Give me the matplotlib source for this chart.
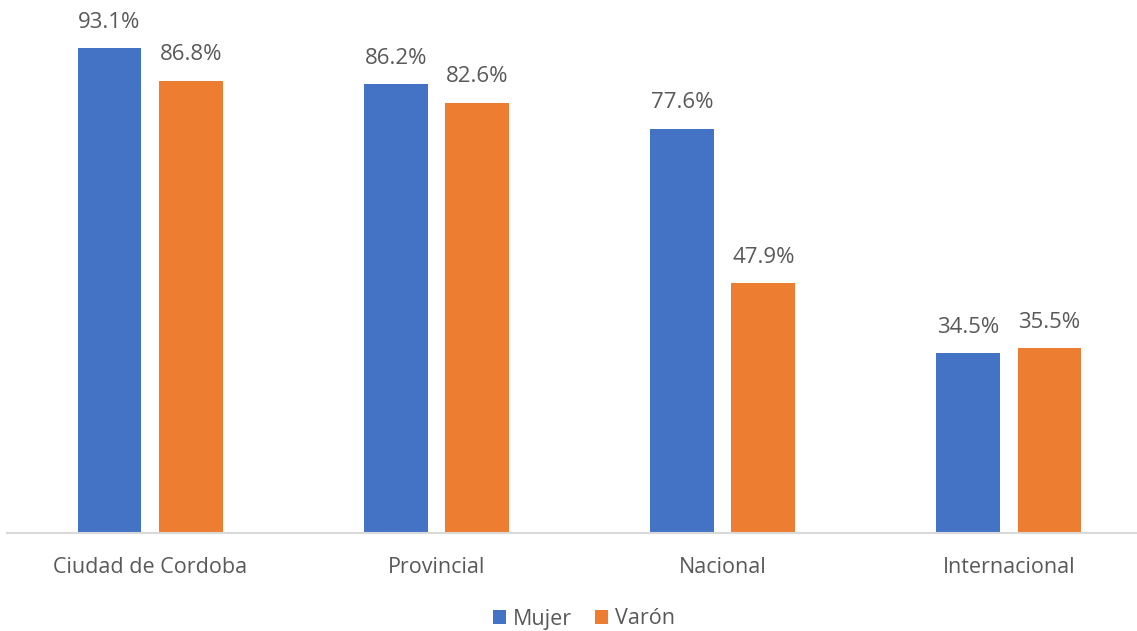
import matplotlib.pyplot as plt
import numpy as np

categories = ["Ciudad de Cordoba", "Provincial", "Nacional", "Internacional"]
mujer = [93.1, 86.2, 77.6, 34.5]
varon = [86.8, 82.6, 47.9, 35.5]
series_names = ["Mujer", "Varón"]
colors = ["#4472C4", "#ED7D31"]

plt.rcParams['font.family'] = ['Open Sans', 'DejaVu Sans']
fig = plt.figure(figsize=(11.37, 6.31), dpi=100)
# axes extends past the right edge (chart cropped in the reference)
ax = fig.add_axes([7/1137, 1-533/631, 1145/1137, 521/631])

x = np.arange(len(categories))
w = 0.223
off = 0.142
b1 = ax.bar(x - off, mujer, w, color=colors[0], label=series_names[0])
b2 = ax.bar(x + off, varon, w, color=colors[1], label=series_names[1])
for bars, vals in ((b1, mujer), (b2, varon)):
    for r, v in zip(bars, vals):
        ax.annotate(f"{v:.1f}%", (r.get_x() + r.get_width()/2, v), xytext=(0, 11),
                    textcoords="offset points", ha="center", va="bottom",
                    fontsize=16, color="#595959")

ax.set_xlim(-0.5, len(categories) - 0.5)
ax.set_ylim(0, 100)
ax.set_yticks([])
ax.set_xticks(x)
ax.set_xticklabels(categories, fontsize=15.5, color="#595959")
ax.tick_params(axis='x', length=0, pad=17)
for s in ("top", "right", "left"):
    ax.spines[s].set_visible(False)
ax.spines["bottom"].set_color("#D9D9D9")
ax.spines["bottom"].set_linewidth(1.5)

fig.legend(handles=[b1, b2], labels=series_names, loc="center", bbox_to_anchor=(584/1137, 1-619/631),
           ncol=2, frameon=False, fontsize=15.5, labelcolor="#595959",
           handlelength=0.6, handleheight=0.6, handletextpad=0.3, columnspacing=1.1)

fig.savefig("out.png", dpi=100)
